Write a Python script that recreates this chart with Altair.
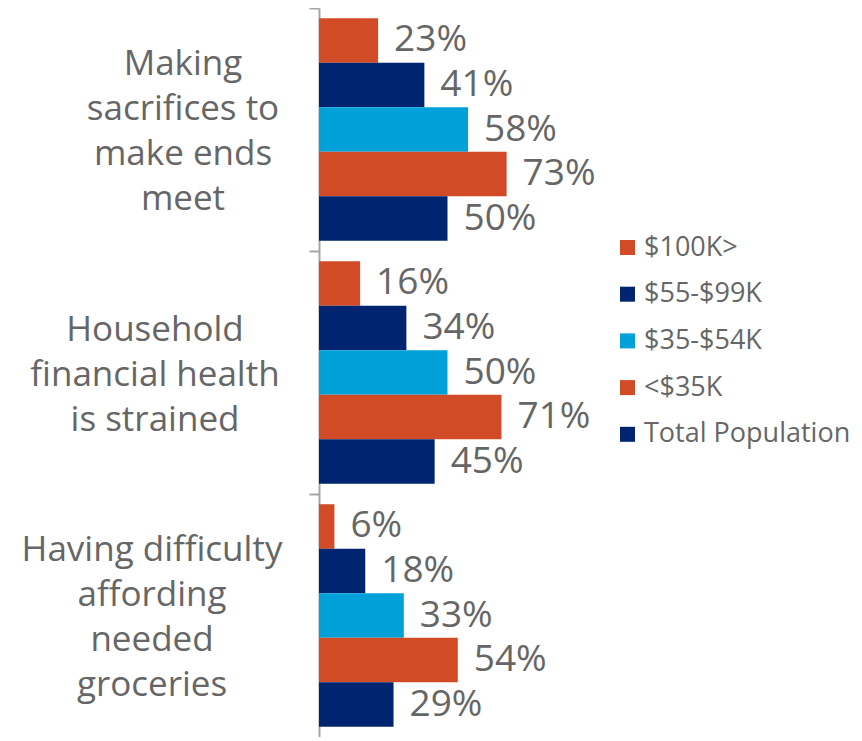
import altair as alt
import pandas as pd

categories = ["Making sacrifices to make ends meet",
              "Household financial health is strained",
              "Having difficulty affording needed groceries"]
cat_lines = [["Making", "sacrifices to", "make ends", "meet"],
             ["Household", "financial health", "is strained"],
             ["Having difficulty", "affording", "needed", "groceries"]]
series = ["$100K>", "$55-$99K", "$35-$54K", "<$35K", "Total Population"]
colors = ["#D24B27", "#002570", "#00A1D9", "#D24B27", "#002570"]
values = {
    "$100K>": [23, 16, 6],
    "$55-$99K": [41, 34, 18],
    "$35-$54K": [58, 50, 33],
    "<$35K": [73, 71, 54],
    "Total Population": [50, 45, 29],
}

rows = []
for s in series:
    for c, v in zip(categories, values[s]):
        rows.append({"category": c, "series": s, "value": v, "label": f"{v}%"})
df = pd.DataFrame(rows)
labels_df = pd.DataFrame({"category": categories, "lines": cat_lines})

FONT = "Open Sans"
GRAY = "#666666"

y_enc = alt.Y("category:N", sort=categories,
              scale=alt.Scale(paddingInner=0, paddingOuter=0),
              axis=alt.Axis(title=None, labels=False, bandPosition=0, tickSize=10,
                            domainColor="#A6A6A6", tickColor="#A6A6A6",
                            domainWidth=2, tickWidth=2))
yoff = alt.YOffset("series:N", sort=series,
                   scale=alt.Scale(paddingInner=0, paddingOuter=0.23))

base = alt.Chart(df)
bars = base.mark_bar(size=44.5).encode(
    x=alt.X("value:Q", scale=alt.Scale(domain=[0, 100]), axis=None),
    y=y_enc,
    yOffset=yoff,
    color=alt.Color("series:N", sort=series,
                    scale=alt.Scale(domain=series, range=colors),
                    legend=alt.Legend(title=None, orient="none", legendX=295, legendY=226,
                                      symbolType="square", symbolSize=225,
                                      symbolStrokeWidth=0,
                                      labelFont=FONT, labelFontSize=27, labelColor=GRAY,
                                      labelOffset=3, rowPadding=18.7, labelLimit=400)),
)
texts = base.mark_text(align="left", baseline="middle", dx=16,
                       font=FONT, fontSize=37, color=GRAY).encode(
    x=alt.X("value:Q"),
    y=alt.Y("category:N", sort=categories),
    yOffset=yoff,
    text="label:N",
)

xs = [-136, -164, -167]
cat_layers = []
for c, lines, xv in zip(categories, cat_lines, xs):
    cat_layers.append(
        alt.Chart(labels_df).transform_filter(alt.datum.category == c)
        .mark_text(align="center", baseline="middle", font=FONT, fontSize=35,
                   color=GRAY, lineHeight=45, dy=-(len(lines) - 1) * 45 / 2 + 2)
        .encode(y=alt.Y("category:N", sort=categories), x=alt.value(xv), text="lines")
    )

chart = alt.layer(bars, texts, *cat_layers).properties(
    width=257, height=729,
    autosize=alt.AutoSizeParams(type="none"),
    padding={"left": 311, "top": 0, "right": 276, "bottom": 0},
).configure_view(stroke=None)

chart.save("out.html", embed_options={"renderer": "svg", "actions": False})
